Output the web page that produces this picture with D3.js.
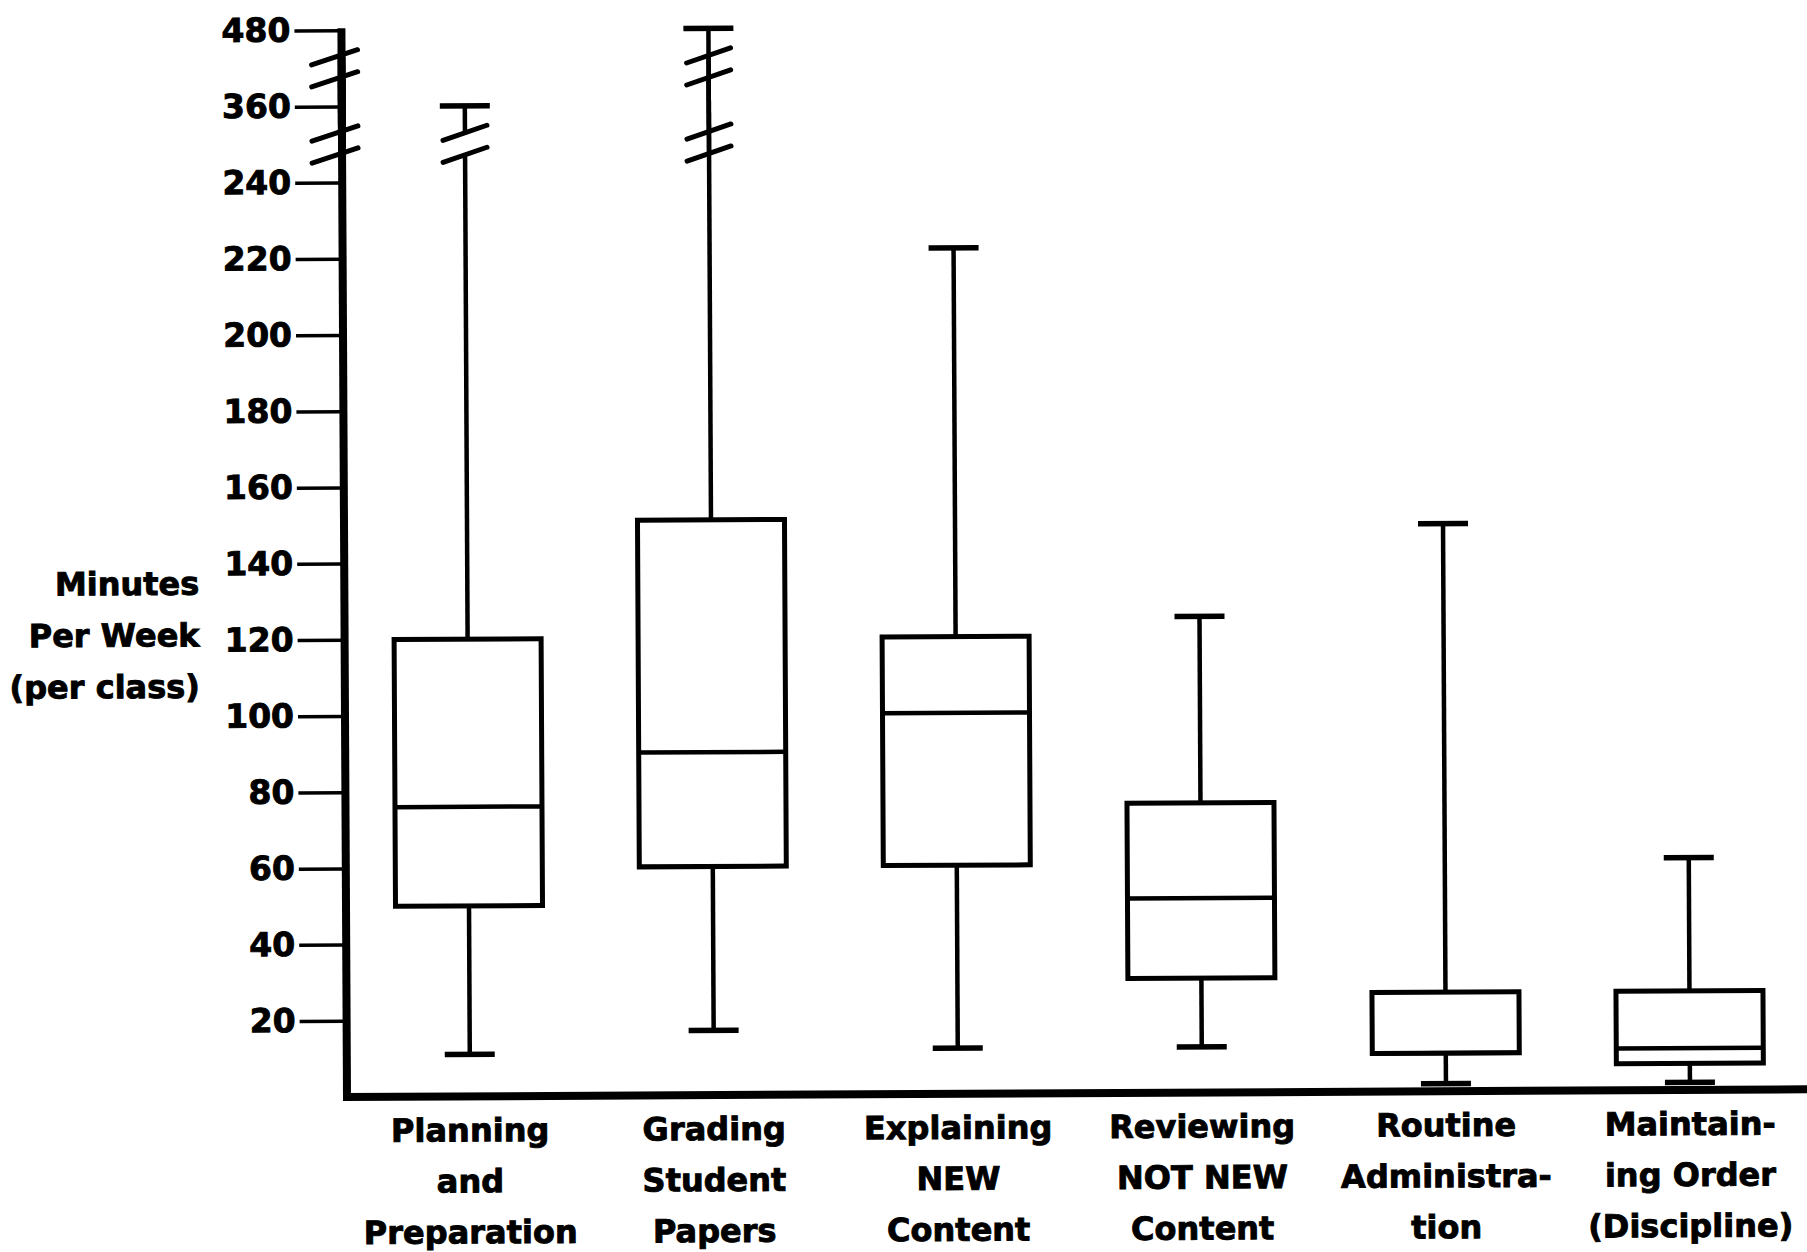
<!DOCTYPE html>
<html>
<head>
<meta charset="utf-8">
<script src="https://cdn.jsdelivr.net/npm/d3@7/dist/d3.min.js"></script>
<style>
  body { margin: 0; background: #fff; }
  text { font-family: "DejaVu Sans", sans-serif; font-weight: bold; fill: #000; stroke: #000; stroke-width: 0.9px; }
</style>
</head>
<body>
<div id="chart"></div>
<script>
// categories (each label split into its printed lines)
const categories = [
  ["Planning", "and", "Preparation"],
  ["Grading", "Student", "Papers"],
  ["Explaining", "NEW", "Content"],
  ["Reviewing", "NOT NEW", "Content"],
  ["Routine", "Administra-", "tion"],
  ["Maintain-", "ing Order", "(Discipline)"]
];

// minutes per week
const lowWhisker  = [11, 17, 12, 12, 2, 2];
const q1          = [50, 60, 60, 30, 10, 7];
const median      = [76, 90, 100, 51, 10, 11];
const q3          = [120, 151, 120, 76, 26, 26];
const highWhisker = [360, 480, 222, 125, 149, 61];

const yTicks = [20, 40, 60, 80, 100, 120, 140, 160, 180, 200, 220, 240, 360, 480];
// scale breaks on the axis (between these tick pairs)
const axisBreaks = [[240, 360], [360, 480]];
const yTitle = ["Minutes", "Per Week", "(per class)"];

const width = 1807;
const height = 1252;
const x0 = 347;      // y axis position
const y0 = 1097;     // zero line
const step = 76.2;   // pixels per 20 minutes
const boxWidth = 147;

const svg = d3.select("#chart")
  .append("svg")
  .attr("width", width)
  .attr("height", height)
  .attr("viewBox", `0 0 ${width} ${height}`);

// the scanned page is turned a little
const chart = svg.append("g")
  .attr("transform", `rotate(-0.3 ${x0} ${y0})`);

// broken scale: 240 / 360 / 480 each take one 20-minute step
const yScale = d3.scaleLinear()
  .domain([0, 240, 360, 480])
  .range([y0, y0 - 12 * step, y0 - 13 * step, y0 - 14 * step]);

const xScale = d3.scalePoint()
  .domain(d3.range(categories.length))
  .range([470, 1690]);

const gapHalf = 11;
const gaps = axisBreaks.map(([a, b]) => {
  const c = (yScale(a) + yScale(b)) / 2;
  return [c - gapHalf, c + gapHalf];
});

// split a vertical run [top, bottom] by the break gaps
const splitRun = (top, bottom) => {
  let segs = [];
  let cur = top;
  const used = [];
  gaps.forEach(([g0, g1]) => {
    if (g0 > top && g1 < bottom) {
      segs.push([cur, g0]);
      cur = g1;
      used.push([g0, g1]);
    }
  });
  segs.push([cur, bottom]);
  return { segs, used };
};

const drawSlashes = (g, cx, used, half) => {
  used.forEach(([g0, g1]) => {
    [g0, g1].forEach(yy => {
      g.append("line")
        .attr("x1", cx - half).attr("y1", yy + 7.5)
        .attr("x2", cx + half).attr("y2", yy - 7.5)
        .attr("stroke", "#000")
        .attr("stroke-width", 5)
        .attr("stroke-linecap", "round");
    });
  });
};

// y axis ticks and labels
const yAxis = chart.append("g")
  .attr("transform", `translate(${x0}, 0)`)
  .call(d3.axisLeft(yScale).tickValues(yTicks).tickSize(47).tickPadding(4));
yAxis.select(".domain").remove();
yAxis.selectAll(".tick line").attr("stroke", "#000").attr("stroke-width", 3.5);
yAxis.selectAll(".tick text")
  .attr("fill", "#000")
  .style("font-size", "33px")
  .style("font-family", "'DejaVu Sans', sans-serif")
  .style("font-weight", "bold");

// y axis line with breaks
const axisRun = splitRun(yScale(480) - 2, y0 + 4);
axisRun.segs.forEach(([a, b]) => {
  chart.append("line")
    .attr("x1", x0).attr("x2", x0)
    .attr("y1", a).attr("y2", b)
    .attr("stroke", "#000")
    .attr("stroke-width", 8);
});
drawSlashes(chart, x0 - 7, axisRun.used, 23);

// x axis line
chart.append("line")
  .attr("x1", x0 - 4).attr("x2", width + 20)
  .attr("y1", y0).attr("y2", y0)
  .attr("stroke", "#000")
  .attr("stroke-width", 8);

// y title
chart.append("text")
  .attr("text-anchor", "end")
  .style("font-size", "32px")
  .selectAll("tspan")
  .data(yTitle)
  .join("tspan")
    .attr("x", 202)
    .attr("y", (d, i) => 594 + i * 51.5)
    .text(d => d);

// boxes
const boxes = chart.append("g");
categories.forEach((cat, i) => {
  const cx = xScale(i);
  const g = boxes.append("g");

  // upper whisker, possibly broken
  const up = splitRun(yScale(highWhisker[i]), yScale(q3[i]));
  up.segs.forEach(([a, b]) => {
    g.append("line")
      .attr("x1", cx).attr("x2", cx)
      .attr("y1", a).attr("y2", b)
      .attr("stroke", "#000")
      .attr("stroke-width", 4.5);
  });
  drawSlashes(g, cx, up.used, 22);

  // lower whisker
  g.append("line")
    .attr("x1", cx).attr("x2", cx)
    .attr("y1", yScale(q1[i])).attr("y2", yScale(lowWhisker[i]))
    .attr("stroke", "#000")
    .attr("stroke-width", 4.5);

  // caps
  [highWhisker[i], lowWhisker[i]].forEach(v => {
    g.append("line")
      .attr("x1", cx - 25).attr("x2", cx + 25)
      .attr("y1", yScale(v)).attr("y2", yScale(v))
      .attr("stroke", "#000")
      .attr("stroke-width", 5.5);
  });

  // box
  g.append("rect")
    .attr("x", cx - boxWidth / 2)
    .attr("width", boxWidth)
    .attr("y", yScale(q3[i]))
    .attr("height", yScale(q1[i]) - yScale(q3[i]))
    .attr("fill", "#fff")
    .attr("stroke", "#000")
    .attr("stroke-width", 5);

  // median
  g.append("line")
    .attr("x1", cx - boxWidth / 2).attr("x2", cx + boxWidth / 2)
    .attr("y1", yScale(median[i])).attr("y2", yScale(median[i]))
    .attr("stroke", "#000")
    .attr("stroke-width", 4.5);

  // category label
  g.append("text")
    .attr("text-anchor", "middle")
    .style("font-size", "32px")
    .selectAll("tspan")
    .data(cat)
    .join("tspan")
      .attr("x", cx)
      .attr("y", (d, j) => y0 + 45 + j * 51)
      .text(d => d);
});
</script>
</body>
</html>
